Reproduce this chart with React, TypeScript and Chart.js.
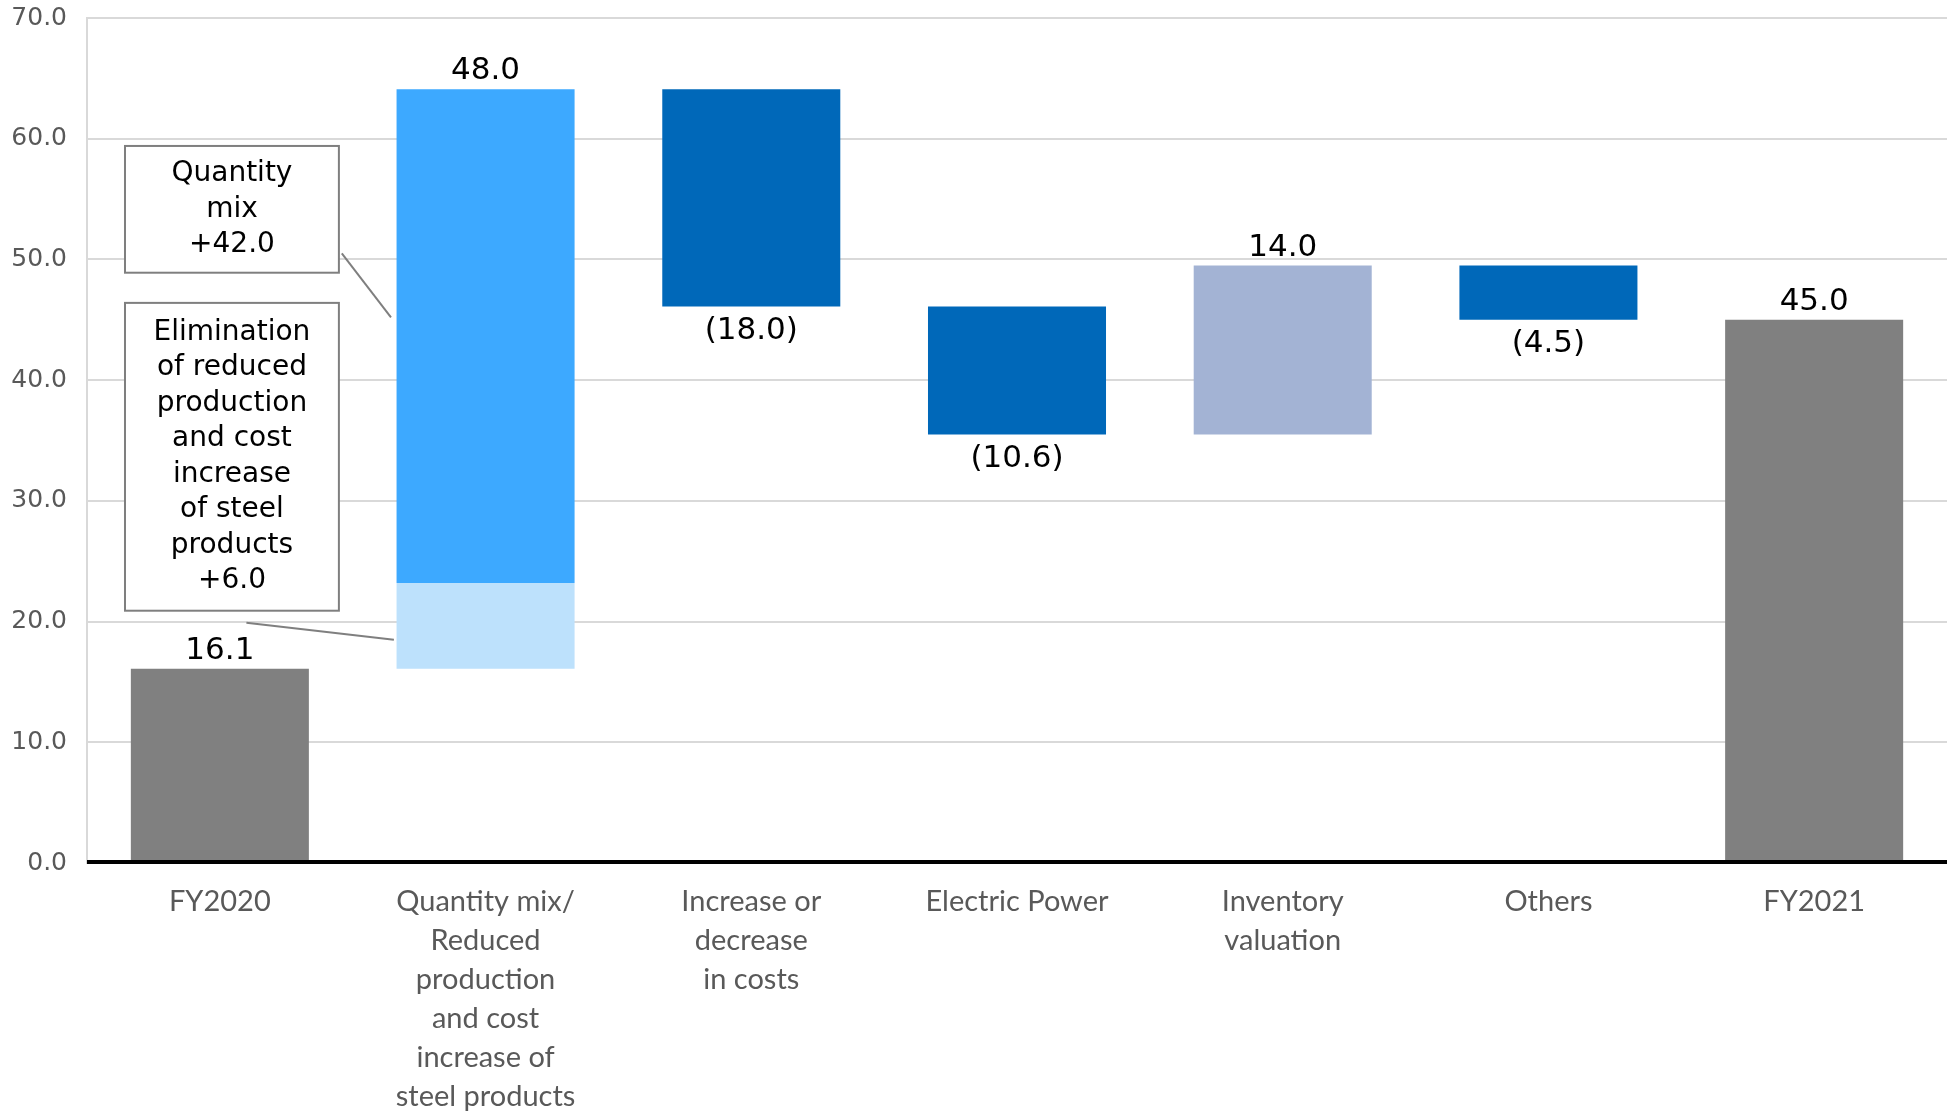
import React, { useEffect, useRef } from "react";
import { Chart, registerables } from "chart.js";

Chart.register(...registerables);

// ---- data ----
const categories: string[][] = [
  ["FY2020"],
  ["Quantity mix/", "Reduced", "production", "and cost", "increase of", "steel products"],
  ["Increase or", "decrease", "in costs"],
  ["Electric Power"],
  ["Inventory", "valuation"],
  ["Others"],
  ["FY2021"],
];
const barStart = [0, 23.2, 64.1, 46.1, 35.5, 49.5, 0];
const barEnd = [16.1, 64.1, 46.1, 35.5, 49.5, 45.0, 45.0];
const barColors = ["#808080", "#3DA9FF", "#0068B9", "#0068B9", "#A3B3D4", "#0068B9", "#808080"];
const subStart = [null, 16.1, null, null, null, null, null];
const subEnd = [null, 23.2, null, null, null, null, null];
const subColor = "#BDE1FC";
const valueLabels = ["16.1", "48.0", "(18.0)", "(10.6)", "14.0", "(4.5)", "45.0"];
const yMin = 0;
const yMax = 70;
const yStep = 10;

// callouts (text boxes with leader lines)
const calloutLines: string[][] = [
  ["Quantity", "mix", "+42.0"],
  ["Elimination", "of reduced", "production", "and cost", "increase", "of steel", "products", "+6.0"],
];
const calloutTop = [59.4, 46.4];
const calloutBottom = [48.9, 20.9];
const calloutLeft = -0.357;
const calloutRight = 0.448;
const leaderFromPos = [0.459, 0.1];
const leaderFromVal = [50.5, 19.9];
const leaderToPos = [0.644, 0.655];
const leaderToVal = [45.2, 18.5];

const overlayPlugin = {
  id: "overlay",
  afterDatasetsDraw(chart: any) {
    const ctx = chart.ctx;
    const xs = chart.scales.x;
    const ys = chart.scales.y;
    const area = chart.chartArea;
    const slot = (area.right - area.left) / categories.length;
    const px = (pos: number) => xs.getPixelForValue(0) + pos * slot;

    // baseline
    ctx.save();
    ctx.strokeStyle = "#000";
    ctx.lineWidth = 4;
    ctx.beginPath();
    const y0 = ys.getPixelForValue(0);
    ctx.moveTo(area.left, y0 - 1);
    ctx.lineTo(area.right, y0 - 1);
    ctx.stroke();
    ctx.restore();

    // value labels
    const meta = chart.getDatasetMeta(0);
    ctx.save();
    ctx.font = "31px 'DejaVu Sans'";
    ctx.fillStyle = "#000";
    ctx.textAlign = "center";
    ctx.textBaseline = "middle";
    meta.data.forEach((el: any, i: number) => {
      const top = Math.min(el.y, el.base);
      const bottom = Math.max(el.y, el.base);
      const up = barEnd[i] >= barStart[i];
      const y = up ? top - 18 : bottom + 24;
      ctx.fillText(valueLabels[i], el.x, y);
    });
    ctx.restore();

    // callouts
    ctx.save();
    for (let k = 0; k < calloutLines.length; k++) {
      const l = px(calloutLeft);
      const r = px(calloutRight);
      const t = ys.getPixelForValue(calloutTop[k]);
      const b = ys.getPixelForValue(calloutBottom[k]);
      ctx.fillStyle = "#fff";
      ctx.fillRect(l, t, r - l, b - t);
      ctx.strokeStyle = "#7f7f7f";
      ctx.lineWidth = 2;
      ctx.strokeRect(l, t, r - l, b - t);
      // leader
      ctx.beginPath();
      ctx.moveTo(px(leaderFromPos[k]), ys.getPixelForValue(leaderFromVal[k]));
      ctx.lineTo(px(leaderToPos[k]), ys.getPixelForValue(leaderToVal[k]));
      ctx.stroke();
      // text
      ctx.fillStyle = "#000";
      ctx.font = "28px 'DejaVu Sans'";
      ctx.textAlign = "center";
      ctx.textBaseline = "middle";
      const lines = calloutLines[k];
      const lh = 35.5;
      const cy = (t + b) / 2;
      const cx = (l + r) / 2;
      lines.forEach((s, j) => {
        ctx.fillText(s, cx, cy + (j - (lines.length - 1) / 2) * lh);
      });
    }
    ctx.restore();
  },
};

export default function App() {
  const ref = useRef<HTMLCanvasElement | null>(null);
  useEffect(() => {
    if (!ref.current) return;
    const chart = new Chart(ref.current, {
      type: "bar",
      data: {
        labels: categories,
        datasets: [
          {
            data: barStart.map((s, i) => [s, barEnd[i]]) as any,
            backgroundColor: barColors,
            grouped: false,
            barPercentage: 0.67,
            categoryPercentage: 1,
            borderWidth: 0,
            order: 1,
          } as any,
          {
            data: subStart.map((s, i) => (s === null ? null : [s, subEnd[i] as number])) as any,
            backgroundColor: subColor,
            grouped: false,
            barPercentage: 0.67,
            categoryPercentage: 1,
            borderWidth: 0,
            order: 0,
          } as any,
        ],
      },
      options: {
        responsive: false,
        animation: false,
        layout: { autoPadding: false, padding: { top: 18, right: 10, left: 0, bottom: 0 } } as any,
        plugins: { legend: { display: false }, tooltip: { enabled: false } },
        scales: {
          x: {
            grid: { display: false, drawTicks: false },
            border: { display: false },
            ticks: {
              color: "#595959",
              font: { family: "Lato", size: 29, lineHeight: "39px" } as any,
              padding: 19,
              maxRotation: 0,
              autoSkip: false,
            },
            afterFit(scale: any) {
              scale.height = 250;
              scale.paddingLeft = 0;
              scale.paddingRight = 0;
            },
          },
          y: {
            min: yMin,
            max: yMax,
            grid: {
              color: (c: any) => (c.tick && c.tick.value === 0 ? "rgba(0,0,0,0)" : "#d9d9d9"),
              lineWidth: 2,
              drawTicks: false,
            },
            border: { display: true, color: "#d9d9d9", width: 2 },
            ticks: {
              stepSize: yStep,
              color: "#595959",
              font: { family: "DejaVu Sans", size: 25 },
              padding: 20,
              callback: (v: any) => Number(v).toFixed(1),
            },
            afterFit(scale: any) {
              scale.width = 87;
              scale.paddingTop = 0;
              scale.paddingBottom = 0;
            },
          },
        },
      },
      plugins: [overlayPlugin],
    });
    return () => chart.destroy();
  }, []);
  return (
    <div style={{ position: "absolute", left: 0, top: 0, width: 1957, height: 1113, background: "#fff" }}>
      <canvas ref={ref} width={1957} height={1113} style={{ display: "block" }} />
    </div>
  );
}
